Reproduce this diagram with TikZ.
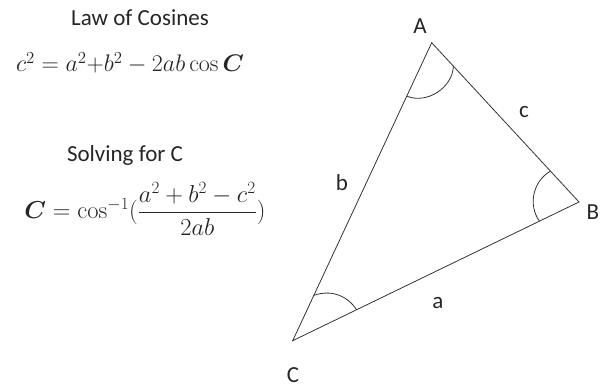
\RequirePackage{fix-cm}
\documentclass[tikz,border=0pt]{standalone}
\usepackage{amsmath}
\usepackage{bm}
\usepackage[no-math]{fontspec}
\setmainfont{Carlito}
\usetikzlibrary{calc}
\begin{document}
\begin{tikzpicture}[x=1pt,y=1pt,
  side/.style={draw=black!80, line width=0.8pt},
  anglearc/.style={draw=black!80, line width=0.8pt},
  lbl/.style={font=\fontsize{23}{27}\selectfont, text=black!85, inner sep=0pt},
  eq/.style={font=\fontsize{24}{29}\selectfont, text=black!85, inner sep=0pt}]
\useasboundingbox (0,0) rectangle (606,387);
% vertices
\coordinate (A) at (431.7,344.3);
\coordinate (B) at (579,185);
\coordinate (C) at (292.7,46.3);
\draw[side] (A) -- (B) -- (C) -- cycle;
% angle arcs
\coordinate (A1) at ($(A)!59pt!(C)$);
\coordinate (A2) at ($(A)!32pt!(B)$);
\draw[anglearc] (A1) to[bend right=55] (A2);
\coordinate (B1) at ($(B)!42pt!(A)$);
\coordinate (B2) at ($(B)!44pt!(C)$);
\draw[anglearc] (B1) to[bend right=48] (B2);
\coordinate (C1) at ($(C)!50pt!(A)$);
\coordinate (C2) at ($(C)!71pt!(B)$);
\draw[anglearc] (C1) to[bend left=38] (C2);
% vertex labels
\node[lbl] (lA) at (420,361) {A};
\node[lbl] (lB) at (593,175) {B};
\node[lbl] (lC) at (293,12) {C};
% side labels
\node[lbl] (lc) at (524,275) {c};
\node[lbl] (lb) at (342,204) {b};
\node[lbl] (la) at (438,84) {a};
% left text
\node[lbl] (t1) at (140,369) {Law of Cosines};
\node[eq] (f1) at (130,324) {$c^2 = a^2{+}b^2 - 2ab\cos \bm{C}$};
\node[lbl] (t2) at (125,232) {Solving for C};
\node[eq, font=\fontsize{24.5}{29}\selectfont] (f2) at (145,178) {$\bm{C} = \cos^{-1}(\dfrac{a^2+b^2-c^2}{2ab})$};
\end{tikzpicture}
\end{document}
